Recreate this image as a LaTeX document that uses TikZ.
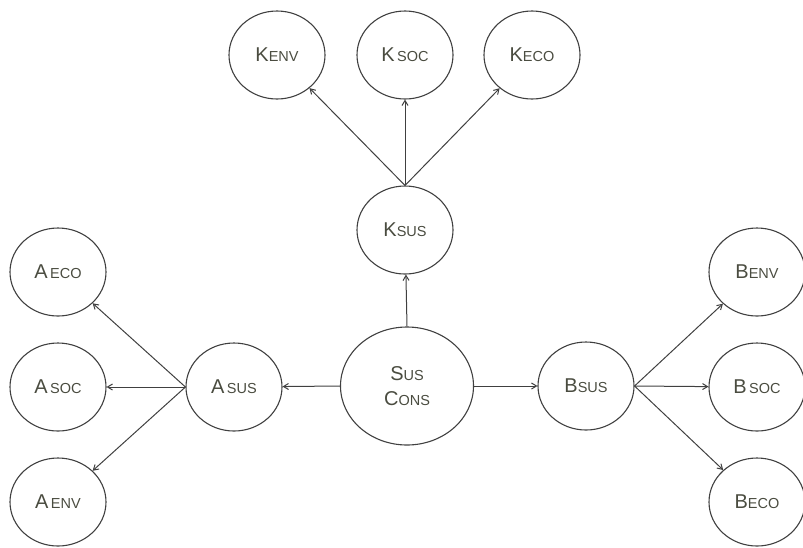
\documentclass[tikz,border=0pt]{standalone}
\usepackage{fontspec}
\setmainfont{Liberation Sans}
\usetikzlibrary{arrows.meta,shapes.geometric}
\definecolor{txt}{HTML}{4A4C40}
\definecolor{ln}{HTML}{404040}
\newcommand{\lbl}[2]{{\fontsize{20}{25}\selectfont #1}{\fontsize{14.5}{25}\selectfont #2}}
\tikzset{
  circ/.style={draw=ln, line width=1.1pt, shape=ellipse, minimum width=96pt, minimum height=88pt, inner sep=0pt, text=txt, align=center, font=\fontsize{20}{25}\selectfont},
  arr/.style={draw=ln, line width=1pt, -{Straight Barb[length=5pt,width=6pt]}}
}
\begin{document}
\begin{tikzpicture}[x=1pt,y=-1pt]
\useasboundingbox (0,0) rectangle (803,547);
\node[circ] (kenv) at (277,55) {\lbl{K}{ENV}};
\node[circ] (ksoc) at (405,55) {\lbl{K}{\,SOC}};
\node[circ] (keco) at (532,55) {\lbl{K}{ECO}};
\node[circ] (ksus) at (405,230) {\lbl{K}{SUS}};
\node[circ, minimum width=133pt, minimum height=118pt] (sus) at (407,386) {\lbl{S}{US}\\\lbl{C}{ONS}};
\node[circ] (asus) at (234,387) {\lbl{A}{\,SUS}};
\node[circ] (bsus) at (586,386) {\lbl{B}{SUS}};
\node[circ] (aeco) at (58,272) {\lbl{A}{\,ECO}};
\node[circ] (asoc) at (58,387) {\lbl{A}{\,SOC}};
\node[circ] (aenv) at (58,502) {\lbl{A}{\,ENV}};
\node[circ] (benv) at (757,272) {\lbl{B}{ENV}};
\node[circ] (bsoc) at (757,387) {\lbl{B}{\,SOC}};
\node[circ] (beco) at (757,502) {\lbl{B}{ECO}};
\draw[arr] (ksus.north) -- (kenv);
\draw[arr] (ksus.north) -- (ksoc);
\draw[arr] (ksus.north) -- (keco);
\draw[arr] (sus.north) -- (ksus);
\draw[arr] (sus.west) -- (asus);
\draw[arr] (sus.east) -- (bsus);
\draw[arr] (asus.west) -- (aeco);
\draw[arr] (asus.west) -- (asoc);
\draw[arr] (asus.west) -- (aenv);
\draw[arr] (bsus.east) -- (benv);
\draw[arr] (bsus.east) -- (bsoc);
\draw[arr] (bsus.east) -- (beco);
\end{tikzpicture}
\end{document}
